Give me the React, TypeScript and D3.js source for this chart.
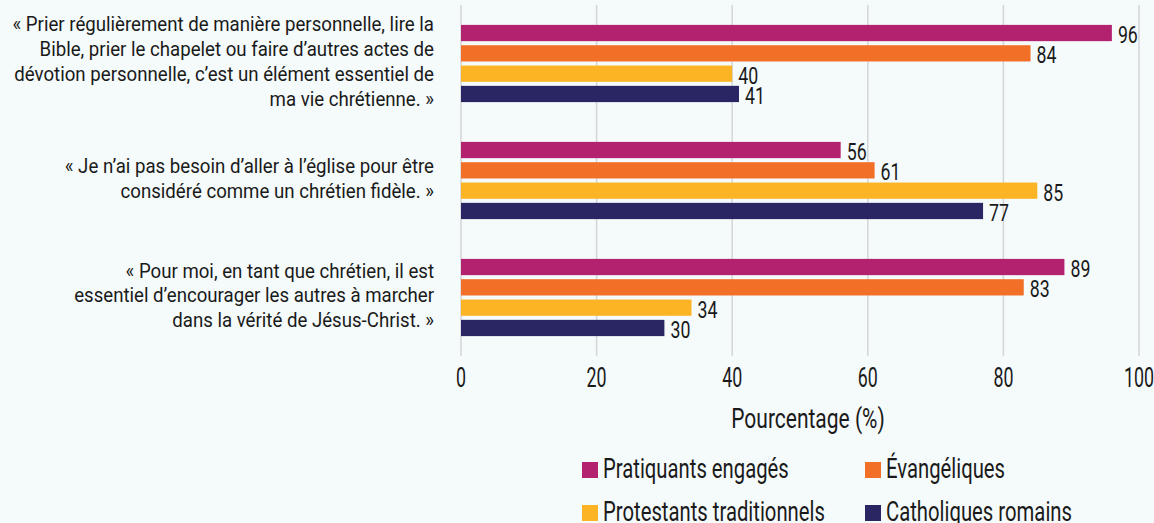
import React, { useEffect, useRef } from "react";
import * as d3 from "d3";

// Data
const statements = [
  [
    "« Prier régulièrement de manière personnelle, lire la",
    "Bible, prier le chapelet ou faire d’autres actes de",
    "dévotion personnelle, c’est un élément essentiel de",
    "ma vie chrétienne. »",
  ],
  [
    "« Je n’ai pas besoin d’aller à l’église pour être",
    "considéré comme un chrétien fidèle. »",
  ],
  [
    "« Pour moi, en tant que chrétien, il est",
    "essentiel d’encourager les autres à marcher",
    "dans la vérité de Jésus-Christ. »",
  ],
];
const seriesNames = [
  "Pratiquants engagés",
  "Évangéliques",
  "Protestants traditionnels",
  "Catholiques romains",
];
const pratiquants = [96, 56, 89];
const evangeliques = [84, 61, 83];
const protestants = [40, 85, 34];
const catholiques = [41, 77, 30];
const xTicks = [0, 20, 40, 60, 80, 100];
const axisTitle = "Pourcentage (%)";

const colors = ["#b3226f", "#f26f28", "#fdb424", "#2a2664"];
const FONT = "Roboto, 'DejaVu Sans Condensed', sans-serif";
const INK = "#1a1a1a";

// text helper: horizontally squeezed text, to mimic a condensed face
function addText(parent, x, y, str, size, sx, anchor = "start") {
  return parent
    .append("text")
    .attr("transform", `translate(${x},${y}) scale(${sx},1)`)
    .attr("text-anchor", anchor)
    .attr("font-family", FONT)
    .attr("font-size", size)
    .attr("fill", INK)
    .text(str);
}

const App = () => {
  const ref = useRef<SVGSVGElement | null>(null);

  useEffect(() => {
    const width = 1154;
    const height = 523;
    const svg = d3.select(ref.current);
    svg.selectAll("*").remove();

    svg.append("rect").attr("width", width).attr("height", height).attr("fill", "#f5fafb");

    const values = [pratiquants, evangeliques, protestants, catholiques];

    // Scaling
    const x = d3.scaleLinear().domain([0, 100]).range([461, 1139]);
    const y0 = d3
      .scaleBand()
      .domain(d3.range(statements.length).map(String))
      .range([5, 356])
      .paddingInner(0.34)
      .paddingOuter(0.17);
    const y1 = d3
      .scaleBand()
      .domain(d3.range(seriesNames.length).map(String))
      .range([0, y0.bandwidth()])
      .paddingInner(0.2);

    // Grid
    svg.append("g")
      .selectAll("line")
      .data(xTicks)
      .join("line")
      .attr("x1", (d) => x(d))
      .attr("x2", (d) => x(d))
      .attr("y1", 5)
      .attr("y2", 356)
      .attr("stroke", "#d3d5d8")
      .attr("stroke-width", 1.5);

    // Tick labels + axis title
    const axisG = svg.append("g");
    xTicks.forEach((t) => addText(axisG, x(t), 387, t, 27, 0.66, "middle"));
    addText(svg, x(50) + 8, 428, axisTitle, 28, 0.75, "middle");

    // Bars
    const groups = svg.append("g")
      .selectAll("g")
      .data(statements)
      .join("g")
      .attr("transform", (d, i) => `translate(0,${y0(String(i))})`);

    groups.each(function (lines, gi) {
      const g = d3.select(this);
      values.forEach((vals, si) => {
        const yy = y1(String(si))!;
        g.append("rect")
          .attr("x", x(0))
          .attr("y", yy)
          .attr("width", x(vals[gi]) - x(0))
          .attr("height", y1.bandwidth())
          .attr("fill", colors[si]);
        addText(g, x(vals[gi]) + 6, yy + y1.bandwidth() / 2 + 10, vals[gi], 24, 0.74);
      });

      // Category label
      const lh = 24.7;
      const mid = y0.bandwidth() / 2 + 5;
      const start = mid - ((lines.length - 1) * lh) / 2;
      g.append("text")
        .attr("transform", `translate(434,0) scale(0.888,1)`)
        .attr("text-anchor", "end")
        .attr("font-family", FONT)
        .attr("font-size", 21)
        .attr("fill", INK)
        .selectAll("tspan")
        .data(lines)
        .join("tspan")
        .attr("x", 0)
        .attr("y", (d, i) => start + i * lh)
        .text((d) => d);
    });

    // Legend
    const legendPos = [
      [582, 478],
      [865, 478],
      [582, 521],
      [865, 521],
    ];
    const legend = svg.append("g")
      .selectAll("g")
      .data(seriesNames)
      .join("g")
      .attr("transform", (d, i) => `translate(${legendPos[i][0]},${legendPos[i][1]})`);
    legend.append("rect")
      .attr("x", 0)
      .attr("y", -16)
      .attr("width", 16)
      .attr("height", 16)
      .attr("fill", (d, i) => colors[i]);
    legend.each(function (d) {
      addText(d3.select(this), 21, 0, d, 28, 0.724);
    });
  }, []);

  return (
    <svg
      ref={ref}
      width={1154}
      height={523}
      style={{ position: "absolute", left: 0, top: 0, display: "block" }}
    />
  );
};

export default App;
